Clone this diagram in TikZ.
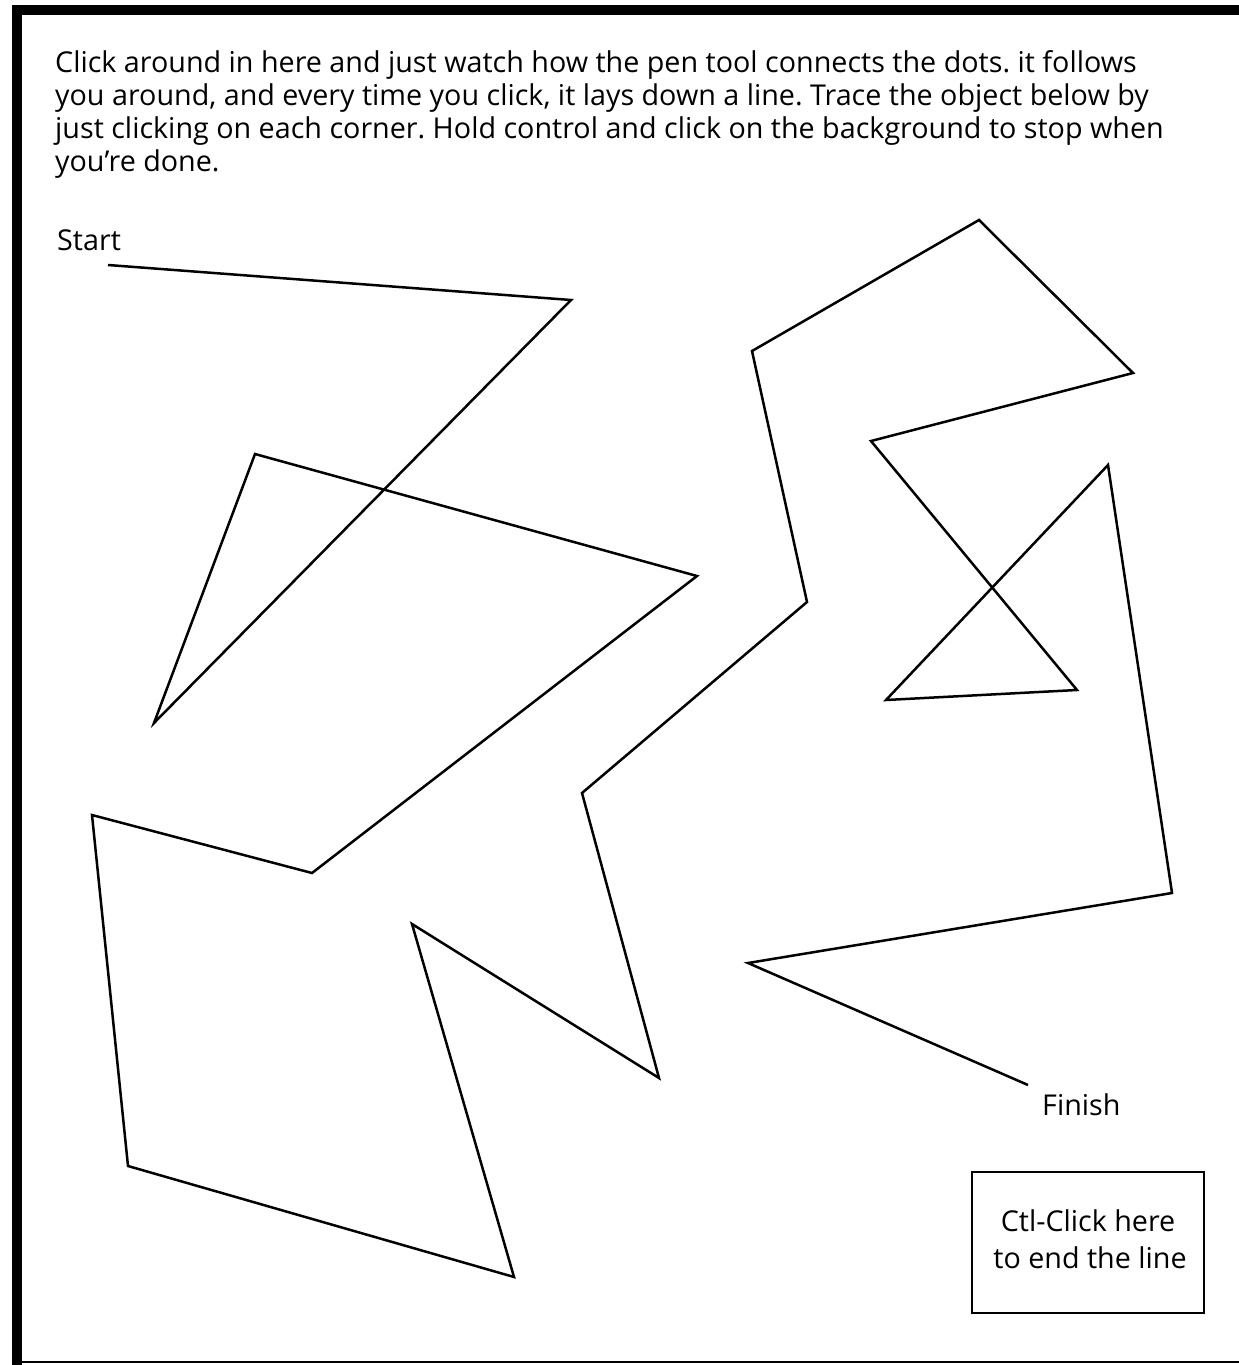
\documentclass[tikz,border=0pt]{standalone}
\usepackage{fontspec}
\setmainfont{Open Sans}
\frenchspacing
\begin{document}
\begin{tikzpicture}[x=1pt,y=-1pt,
  txt/.style={inner sep=0pt,anchor=base west,font=\fontsize{28.7}{33}\selectfont},
  path/.style={line width=2.5pt,line join=miter,black}]
\useasboundingbox (0,0) rectangle (1239,1365);
\fill[white] (0,0) rectangle (1239,1365);
% frame
\fill[black] (12,5) rectangle (1239,15);
\fill[black] (12,5) rectangle (22,1365);
\fill[black] (12,1360.5) rectangle (1239,1362.5);
% instructions
\node[txt] (l1) at (55,72) {Click around in here and just watch how the pen tool connects the dots. it follows};
\node[txt] (l2) at (55,105) {you around, and every time you click, it lays down a line. Trace the object below by};
\node[txt] (l3) at (55,138) {just clicking on each corner. Hold control and click on the background to stop when};
\node[txt] (l4) at (55,171) {you’re done.};
\node[txt] (start) at (57,250) {Start};
\node[txt] (finish) at (1042,1115) {Finish};
% vertices
\coordinate (p1) at (108,265);
\coordinate (p2) at (571,300);
\coordinate (p3) at (154,723);
\coordinate (p4) at (255,454);
\coordinate (p5) at (697,576);
\coordinate (p6) at (312,873);
\coordinate (p7) at (92,815);
\coordinate (p8) at (128,1166);
\coordinate (p9) at (514,1277);
\coordinate (p10) at (412,924);
\coordinate (p11) at (659,1078);
\coordinate (p12) at (582,793);
\coordinate (p13) at (807,602);
\coordinate (p14) at (752,351);
\coordinate (p15) at (979,220);
\coordinate (p16) at (1133,373);
\coordinate (p17) at (871,441);
\coordinate (p18) at (1077,690);
\coordinate (p19) at (886,700);
\coordinate (p20) at (1108,465);
\coordinate (p21) at (1172,893);
\coordinate (p22) at (748,963);
\coordinate (p23) at (1028,1085);
\draw[path] (p1) -- (p2) -- (p3) -- (p4) -- (p5) -- (p6) -- (p7) -- (p8) -- (p9) -- (p10) -- (p11) -- (p12) -- (p13) -- (p14) -- (p15) -- (p16) -- (p17) -- (p18) -- (p19) -- (p20) -- (p21) -- (p22) -- (p23);
% end box
\node[draw,line width=2pt,minimum width=232pt,minimum height=141pt,inner sep=0pt] (box) at (1088,1242.5) {};
\node[txt,anchor=base] (b1) at (1088,1231) {Ctl-Click here};
\node[txt,anchor=base] (b2) at (1090,1268) {to end the line};
\end{tikzpicture}
\end{document}
